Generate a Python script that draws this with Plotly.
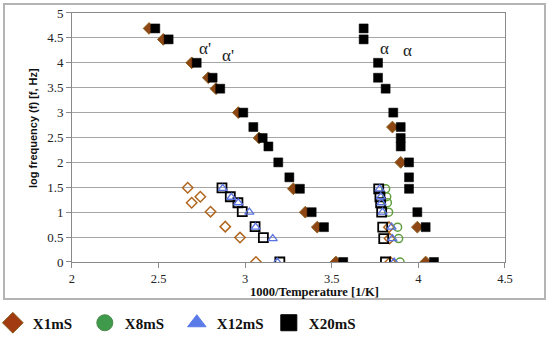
import plotly.graph_objects as go

# ---------------- data ----------------
# X20mS filled squares, alpha' branch and alpha branch
x20_ap_x = [2.481, 2.558, 2.720, 2.812, 2.856, 2.989, 3.047, 3.101, 3.134, 3.191, 3.255, 3.316, 3.384, 3.455, 3.566]
x20_ap_y = [4.69, 4.47, 4.00, 3.70, 3.48, 3.00, 2.71, 2.49, 2.32, 2.00, 1.70, 1.47, 1.00, 0.70, 0.00]
x20_a_x = [3.684, 3.684, 3.767, 3.767, 3.811, 3.855, 3.898, 3.898, 3.898, 3.946, 3.946, 3.946, 3.994, 4.042, 4.090]
x20_a_y = [4.69, 4.47, 4.00, 3.70, 3.48, 3.00, 2.71, 2.49, 2.32, 2.00, 1.70, 1.47, 1.00, 0.70, 0.00]

# X1mS filled diamonds
x1_x = [2.445, 2.527, 2.691, 2.787, 2.831, 2.960, 3.080, 3.278, 3.347, 3.416, 3.524, 3.850, 3.898, 3.994, 4.042]
x1_y = [4.69, 4.47, 4.00, 3.70, 3.48, 3.00, 2.49, 1.47, 1.00, 0.70, 0.00, 2.71, 2.00, 0.70, 0.00]

# open symbols (secondary process)
x1o_x = [2.668, 2.691, 2.741, 2.800, 2.885, 2.970, 3.062, 3.830, 3.834, 3.838]
x1o_y = [1.49, 1.19, 1.31, 1.01, 0.71, 0.49, 0.00, 0.70, 0.47, 0.00]

x8o_x = [3.811, 3.817, 3.821, 3.828, 3.880, 3.886, 3.894]
x8o_y = [1.47, 1.31, 1.19, 1.00, 0.70, 0.47, 0.00]

x12o_x = [2.870, 2.920, 2.960, 3.024, 3.060, 3.159, 3.185, 3.776, 3.783, 3.787, 3.793, 3.845, 3.850, 3.860]
x12o_y = [1.48, 1.30, 1.19, 1.00, 0.70, 0.47, 0.00, 1.47, 1.31, 1.19, 1.00, 0.70, 0.47, 0.00]

x20o_x = [2.866, 2.914, 2.958, 2.983, 3.057, 3.105, 3.200, 3.771, 3.778, 3.782, 3.788, 3.794, 3.800, 3.810]
x20o_y = [1.49, 1.31, 1.19, 1.01, 0.71, 0.49, 0.00, 1.47, 1.31, 1.19, 1.00, 0.70, 0.47, 0.00]

series_names = ["X1mS", "X8mS", "X12mS", "X20mS"]
x_ticks = [2, 2.5, 3, 3.5, 4, 4.5]
y_ticks = [0, 0.5, 1, 1.5, 2, 2.5, 3, 3.5, 4, 4.5, 5]

labels_text = ["\u03b1'", "\u03b1'", "\u03b1", "\u03b1"]
labels_x = [2.768, 2.901, 3.807, 3.940]
labels_y = [4.29, 4.15, 4.29, 4.25]

# ---------------- styles ----------------
BROWN = "#8e4614"
BROWN_EDGE = "#8b6222"
OPEN_BROWN = "#b0661e"
GREEN = "#3f9a4c"
OPEN_GREEN = "#5f9d3e"
BLUE = "#5b7be8"
OPEN_BLUE = "#5a72e0"
BLACK = "#000000"
FRAME = "#b4b4b4"

fig = go.Figure()

# empty trace on the frame axes so that the outer box subplot is drawn
fig.add_trace(go.Scatter(x=[None], y=[None], xaxis="x2", yaxis="y2", mode="markers",
                         showlegend=False, hoverinfo="skip"))

# legend-only entries (bigger symbols like the reference legend)
leg_styles = [
    dict(symbol="diamond", color="#a23a12", line=dict(color=BROWN_EDGE, width=1)),
    dict(symbol="circle", color=GREEN, line=dict(color="#4a8a4a", width=1)),
    dict(symbol="triangle-up", color=BLUE, line=dict(color=BLUE, width=1)),
    dict(symbol="square", color=BLACK, line=dict(color=BLACK, width=1)),
]
for name, st in zip(series_names, leg_styles):
    fig.add_trace(go.Scatter(x=[None], y=[None], mode="markers", name=f"<b>{name}</b>",
                             marker=dict(size=16, **st), showlegend=True))

# open symbols
fig.add_trace(go.Scatter(x=x1o_x, y=x1o_y, mode="markers", showlegend=False,
                         marker=dict(symbol="diamond-open", size=8, color=OPEN_BROWN,
                                     line=dict(width=1.5, color=OPEN_BROWN))))
fig.add_trace(go.Scatter(x=x8o_x, y=x8o_y, mode="markers", showlegend=False,
                         marker=dict(symbol="circle-open", size=8, color=OPEN_GREEN,
                                     line=dict(width=1.5, color=OPEN_GREEN))))
fig.add_trace(go.Scatter(x=x20o_x, y=x20o_y, mode="markers", showlegend=False,
                         marker=dict(symbol="square-open", size=9, color=BLACK,
                                     line=dict(width=1.8, color=BLACK))))
fig.add_trace(go.Scatter(x=x12o_x, y=x12o_y, mode="markers", showlegend=False,
                         marker=dict(symbol="triangle-up-open", size=8, color=OPEN_BLUE,
                                     line=dict(width=1.3, color=OPEN_BLUE))))

# filled symbols
fig.add_trace(go.Scatter(x=x1_x, y=x1_y, mode="markers", showlegend=False,
                         marker=dict(symbol="diamond", size=9, color=BROWN,
                                     line=dict(width=1, color=BROWN_EDGE))))
fig.add_trace(go.Scatter(x=x20_ap_x + x20_a_x, y=x20_ap_y + x20_a_y, mode="markers",
                         showlegend=False,
                         marker=dict(symbol="square", size=9, color=BLACK,
                                     line=dict(width=0.5, color=BLACK))))

for t, xx, yy in zip(labels_text, labels_x, labels_y):
    fig.add_annotation(x=xx, y=yy, text=t, showarrow=False,
                       font=dict(family="Liberation Serif", size=17, color="#222"))

# axis titles as annotations (paper = outer frame area)
fig.add_annotation(xref="paper", yref="paper", x=0.575, y=0.0205, yanchor="middle",
                   xanchor="center",
                   text="<b>1000/Temperature [1/K]</b>", showarrow=False,
                   font=dict(family="Liberation Serif", size=12.5, color="#111"))
fig.add_annotation(xref="paper", yref="paper", x=0.052, xanchor="center", y=0.58,
                   yanchor="middle", textangle=-90,
                   text="<b>log frequency (f) [f, Hz]</b>", showarrow=False,
                   font=dict(family="Liberation Sans Narrow, Liberation Sans", size=11, color="#111"))

fig.update_layout(
    width=550, height=345,
    margin=dict(l=5, r=6, t=5, b=47, autoexpand=False),
    paper_bgcolor="white", plot_bgcolor="rgba(0,0,0,0)",
    font=dict(family="Liberation Serif", size=13, color="#222"),
    legend=dict(orientation="h", x=-0.0226, xanchor="left", y=-0.0853, yanchor="middle",
                font=dict(family="Liberation Serif", size=15, color="#111"),
                itemwidth=30, entrywidth=47, entrywidthmode="pixels",
                bgcolor="rgba(0,0,0,0)", tracegroupgap=0),
    xaxis=dict(domain=[0.1243, 0.9276], range=[2, 4.5], tickvals=x_ticks,
               ticktext=[str(v) for v in x_ticks],
               showgrid=False, zeroline=False, showline=True, linecolor="#8a8a8a",
               linewidth=1, mirror=True, ticks="outside", ticklen=5, tickcolor="#8a8a8a",
               tickfont=dict(family="Liberation Serif", size=12.5)),
    yaxis=dict(domain=[0.1229, 0.9727], range=[0, 5], tickvals=y_ticks,
               ticktext=[f"{v:g}" for v in y_ticks],
               showgrid=True, gridcolor="#a6a6a6", gridwidth=1, zeroline=False,
               showline=True, linecolor="#8a8a8a", linewidth=1, mirror=True,
               ticks="outside", ticklen=5, tickcolor="#8a8a8a",
               tickfont=dict(family="Liberation Serif", size=13)),
    # frame axes: an empty overlay pair whose mirrored lines draw the outer box
    xaxis2=dict(domain=[0, 1], anchor="y2", range=[0, 1], showticklabels=False,
                ticks="", showgrid=False, zeroline=False, showline=True, mirror=True,
                linecolor=FRAME, linewidth=1.5, fixedrange=True),
    yaxis2=dict(domain=[0, 1], anchor="x2", range=[0, 1], showticklabels=False,
                ticks="", showgrid=False, zeroline=False, showline=True, mirror=True,
                linecolor=FRAME, linewidth=1.5, fixedrange=True),
)

fig.write_html("out.html", config={"displayModeBar": False},
               post_script="document.body.style.margin='0';")
